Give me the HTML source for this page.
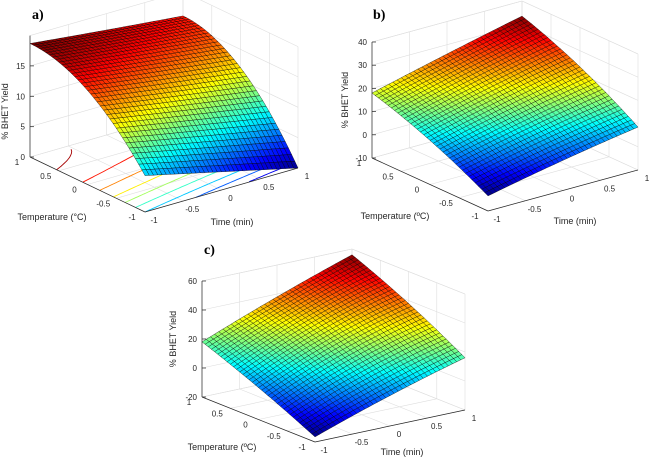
<!DOCTYPE html>
<html><head><meta charset="utf-8">
<style>
html,body{margin:0;padding:0;background:#fff;}
svg{display:block;font-family:"Liberation Sans",Arial,sans-serif;}
.tk{font-size:8px;fill:#262626;}
.ttl{font-size:9px;fill:#262626;}
.pl{font-family:"Liberation Serif",serif;font-weight:bold;font-size:14px;fill:#000;}
</style></head>
<body>
<svg id="fig" width="650" height="468" viewBox="0 0 650 468">
<rect width="650" height="468" fill="#fff"/>
</svg>
<script>
// ---- data (z grid values at T = -1,0,1 (rows) x t = -1,0,1 (cols)) ----
const nodeValues = [-1, 0, 1];
const zGridA = [[6, 3, 0], [15.5, 13.7, 12], [18.7, 17.3, 16]];
const zGridB = [[-3.5, 3, 8.5], [9, 16.5, 23], [18, 26, 33.5]];
const zGridC = [[-16.5, 1, 16], [2, 23, 38], [18, 38, 56]];
const xyTicks = [-1, -0.5, 0, 0.5, 1];
const xyTickLabels = ["-1", "-0.5", "0", "0.5", "1"];
const zTicksA = [0, 5, 10, 15];
const zTicksB = [-10, 0, 10, 20, 30, 40];
const zTicksC = [-20, 0, 20, 40, 60];
const contourLevelsA = [2, 4, 6, 8, 10, 12, 14, 16, 18];

const NS = "http://www.w3.org/2000/svg";
const svg = document.getElementById('fig');
function mk(tag, attrs, parent){
  const e = document.createElementNS(NS, tag);
  for (const k in attrs) e.setAttribute(k, attrs[k]);
  (parent || svg).appendChild(e);
  return e;
}
function jet(v){
  v = Math.max(0, Math.min(1, v));
  const r = Math.max(0, Math.min(1, 1.5 - Math.abs(4*v - 3)));
  const g = Math.max(0, Math.min(1, 1.5 - Math.abs(4*v - 2)));
  const b = Math.max(0, Math.min(1, 1.5 - Math.abs(4*v - 1)));
  return `rgb(${Math.round(r*255)},${Math.round(g*255)},${Math.round(b*255)})`;
}
function L(i, x){ return i===0 ? x*(x-1)/2 : (i===1 ? 1-x*x : x*(x+1)/2); }
function surf(g, T, t){
  let s = 0;
  for (let i=0;i<3;i++) for (let j=0;j<3;j++) s += g[i][j]*L(i,T)*L(j,t);
  return s;
}

function panel(cfg){
  const G = mk('g', {});
  
  
  const P = (T, t, z) => [cfg.O[0] + T*cfg.a[0] + t*cfg.b[0],
                          cfg.O[1] + T*cfg.a[1] + t*cfg.b[1] - (z - cfg.zmin)*cfg.s];
  const line = (p, q, st, w, nm) => {
    const l = mk('line', {x1:p[0].toFixed(1), y1:p[1].toFixed(1), x2:q[0].toFixed(1), y2:q[1].toFixed(1), stroke:st, 'stroke-width':w}, G);
    
    
  };
  const grid = '#dedede';
  const zs = cfg.zTicks.concat([cfg.zmax]);
  zs.forEach(z => {
    line(P(1,-1,z), P(1,1,z), grid, 0.6, 'wall-gridline');
    line(P(1,1,z), P(-1,1,z), grid, 0.6, 'wall-gridline');
  });
  xyTicks.forEach(v => {
    line(P(1,v,cfg.zmin), P(1,v,cfg.zmax), grid, 0.6, 'wall-gridline');
    line(P(v,1,cfg.zmin), P(v,1,cfg.zmax), grid, 0.6, 'wall-gridline');
    line(P(v,-1,cfg.zmin), P(v,1,cfg.zmin), grid, 0.6, 'floor-gridline');
    line(P(-1,v,cfg.zmin), P(1,v,cfg.zmin), grid, 0.6, 'floor-gridline');
  });
  let zlo = Infinity, zhi = -Infinity;
  const N = 36;
  const Z = [];
  for (let i=0;i<=N;i++){ Z.push([]); for (let j=0;j<=N;j++){
    const v = surf(cfg.g, -1+2*i/N, -1+2*j/N); Z[i].push(v);
    zlo = Math.min(zlo, v); zhi = Math.max(zhi, v);
  }}
  if (cfg.levels){
    cfg.levels.forEach(lv => {
      const pts = [];
      for (let j=0;j<=60;j++){
        const t = -1 + 2*j/60;
        let prev = surf(cfg.g, -1, t);
        for (let k=1;k<=200;k++){
          const T = -1 + 2*k/200, cur = surf(cfg.g, T, t);
          if ((prev-lv)*(cur-lv) <= 0 && prev !== cur){
            const Tc = T - 0.01*(cur-lv)/(cur-prev);
            pts.push(P(Tc, t, cfg.zmin)); break;
          }
          prev = cur;
        }
      }
      if (pts.length > 1){
        const pl = mk('polyline', {points: pts.map(p=>p[0].toFixed(1)+','+p[1].toFixed(1)).join(' '), fill:'none', stroke: jet((lv-zlo)/(zhi-zlo)), 'stroke-width':0.9}, G);
        
        
      }
    });
  }
  const cells = [];
  for (let i=0;i<N;i++) for (let j=0;j<N;j++) cells.push([i,j]);
  cells.sort((A,B) => (B[0]+B[1]) - (A[0]+A[1]));
  const sg = mk('g', {stroke:'#000', 'stroke-width':0.4, 'stroke-opacity':0.9}, G);
  
  
  cells.forEach(([i,j]) => {
    const T0 = -1+2*i/N, T1 = -1+2*(i+1)/N, t0 = -1+2*j/N, t1 = -1+2*(j+1)/N;
    const ps = [P(T0,t0,Z[i][j]), P(T1,t0,Z[i+1][j]), P(T1,t1,Z[i+1][j+1]), P(T0,t1,Z[i][j+1])];
    const zc = (Z[i][j]+Z[i+1][j]+Z[i+1][j+1]+Z[i][j+1])/4;
    const pg = mk('polygon', {points: ps.map(p=>p[0].toFixed(1)+','+p[1].toFixed(1)).join(' '), fill: jet((zc-zlo)/(zhi-zlo))}, sg);
    
    
  });
  const ax = '#262626';
  line(P(1,-1,cfg.zmin), P(1,-1,cfg.zmax), ax, 0.7, 'z-axis-line');
  line(P(1,-1,cfg.zmin), P(-1,-1,cfg.zmin), ax, 0.7, 'temperature-axis-line');
  line(P(-1,-1,cfg.zmin), P(-1,1,cfg.zmin), ax, 0.7, 'time-axis-line');
  cfg.zTicks.forEach(z => {
    const p = P(1,-1,z);
    line(p, [p[0]+4, p[1]], ax, 0.7, 'z-tick');
    const tx = mk('text', {x:(p[0]-5).toFixed(1), y:(p[1]+3).toFixed(1), 'text-anchor':'end', class:'tk'}, G);
    tx.textContent = String(z);
    
    
  });
  xyTicks.forEach((v, k) => {
    const p = P(v,-1,cfg.zmin);
    const t1 = mk('text', {x:(p[0]-13).toFixed(1), y:(p[1]+8).toFixed(1), 'text-anchor':'middle', class:'tk'}, G);
    t1.textContent = xyTickLabels[k];
    
    
    const q = P(-1,v,cfg.zmin);
    const t2 = mk('text', {x:(q[0]+9).toFixed(1), y:(q[1]+11).toFixed(1), 'text-anchor':'middle', class:'tk'}, G);
    t2.textContent = xyTickLabels[k];
    
    
  });
  const zl = P(1,-1,(cfg.zmin+cfg.zTicks[cfg.zTicks.length-1])/2);
  const yt = mk('text', {x:0, y:0, 'text-anchor':'middle', class:'ttl', transform:`translate(${zl[0]-cfg.ylOff},${zl[1]}) rotate(-90)`}, G);
  yt.textContent = '% BHET Yield';
  
  
  const tp = P(-1,-1,cfg.zmin);
  const tt = mk('text', {x:tp[0]-93, y:tp[1]+8, 'text-anchor':'middle', class:'ttl'}, G);
  tt.textContent = cfg.tempLabel;
  
  
  const ti = mk('text', {x:tp[0]+87, y:tp[1]+13, 'text-anchor':'middle', class:'ttl'}, G);
  ti.textContent = 'Time (min)';
  
  
  const lb = mk('text', {x:cfg.lab[0], y:cfg.lab[1], class:'pl'}, G);
  lb.textContent = cfg.label;
  
  
}

panel({name:'panel-a', O:[164,162.5], a:[-57.5,-27.5], b:[76.5,-22], s:6.07, zmin:0, zmax:20,
  g:zGridA, zTicks:zTicksA, levels:contourLevelsA, tempLabel:'Temperature (°C)', label:'a)', lab:[32,19], ylOff:22});
panel({name:'panel-b', O:[505,164], a:[-58,-26.5], b:[75,-20.5], s:2.32, zmin:-10, zmax:40,
  g:zGridB, zTicks:zTicksB, levels:null, tempLabel:'Temperature (ºC)', label:'b)', lab:[373,19], ylOff:24});
panel({name:'panel-c', O:[333.5,403.5], a:[-56.5,-22.5], b:[75,-16], s:1.45, zmin:-20, zmax:60,
  g:zGridC, zTicks:zTicksC, levels:null, tempLabel:'Temperature (ºC)', label:'c)', lab:[204,254], ylOff:26});
</script>
</body></html>
